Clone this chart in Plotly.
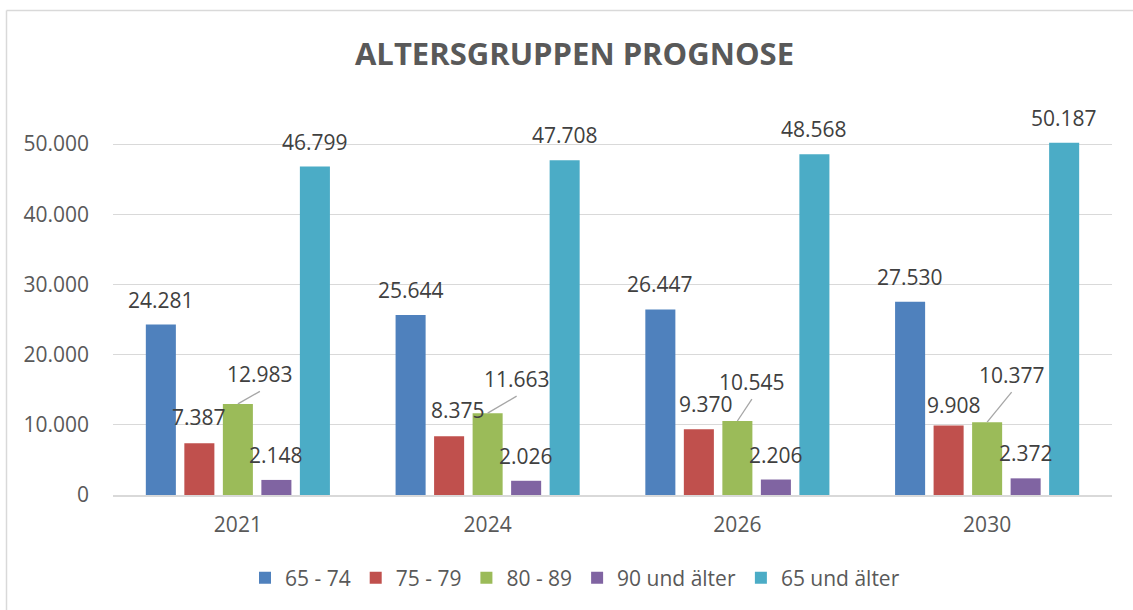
import plotly.graph_objects as go

# ---- data ----
years = ["2021", "2024", "2026", "2030"]
series_names = ["65 - 74", "75 - 79", "80 - 89", "90 und älter", "65 und älter"]
v_65_74 = [24281, 25644, 26447, 27530]
v_75_79 = [7387, 8375, 9370, 9908]
v_80_89 = [12983, 11663, 10545, 10377]
v_90 = [2148, 2026, 2206, 2372]
v_65plus = [46799, 47708, 48568, 50187]
series_values = [v_65_74, v_75_79, v_80_89, v_90, v_65plus]
y_ticks = [0, 10000, 20000, 30000, 40000, 50000]

# ---- style ----
colors = ["#4F81BD", "#C0504D", "#9BBB59", "#8064A2", "#4BACC6"]
FONT = "Open Sans"
BARGAP = 0.229
# label offsets (pixels) relative to top of bar (dx right, dy up)
label_dx = [[0, 0, 0, 0], [0, 9, 7, 5], [22, 29, 14.5, 24.5], [0, 0, 0, 0], [0, 0, 0, 0]]
label_dy = [[25, 25, 25, 25], [26, 26, 25, 20.5], [30, 34.5, 39.3, 47.6],
            [25, 25, 25, 25], [25, 25, 25, 25]]
leader = [False, False, True, False, False]

def fmt(v):
    return f"{v:,}".replace(",", ".")

fig = go.Figure()
for name, vals, col in zip(series_names, series_values, colors):
    fig.add_trace(go.Bar(x=years, y=vals, name=name, marker=dict(color=col, line=dict(width=0)),
                         hoverinfo="skip"))

n = len(series_names)
w = (1 - BARGAP) / n
annotations = []
shapes = []
for k in range(n):
    for i, v in enumerate(series_values[k]):
        xc = i + (k - (n - 1) / 2) * w
        dx = label_dx[k][i]
        dy = label_dy[k][i]
        annotations.append(dict(x=xc, y=v, xref="x", yref="y", text=fmt(v), showarrow=False,
                                xanchor="center", yanchor="middle", xshift=dx, yshift=dy,
                                font=dict(family=FONT, size=21, color="#404040")))
        if leader[k]:
            shapes.append(dict(type="line", xref="x", yref="y", xsizemode="pixel", ysizemode="pixel",
                               xanchor=xc, yanchor=v, x0=0, y0=0, x1=dx, y1=dy - 17.5,
                               line=dict(color="#A6A6A6", width=1.3)))

# chart frame (top and left edges)
L, T, B = 113, 109, 115
H = 610 - T - B
W = 1133 - L - 21
def px_x(p):
    return (p - L) / W
def px_y(p):
    return (610 - B - p) / H
shapes.append(dict(type="line", xref="paper", yref="paper", x0=px_x(6.5), x1=px_x(1140),
                   y0=px_y(10.5), y1=px_y(10.5), line=dict(color="#D9D9D9", width=1.5), layer="above"))
shapes.append(dict(type="line", xref="paper", yref="paper", x0=px_x(6.5), x1=px_x(6.5),
                   y0=px_y(10.5), y1=px_y(620), line=dict(color="#D9D9D9", width=1.5), layer="above"))

fig.update_layout(
    width=1133, height=610,
    margin=dict(l=L, r=21, t=T, b=B),
    paper_bgcolor="white", plot_bgcolor="white",
    barmode="group", bargap=BARGAP, bargroupgap=0.22,
    title=dict(text="<b>ALTERSGRUPPEN PROGNOSE</b>", xref="container", yref="container",
               x=574.5 / 1133, y=1 - 54 / 610, xanchor="center", yanchor="middle",
               font=dict(family=FONT, size=31, color="#595959")),
    xaxis=dict(type="category", showgrid=False, showline=True, linecolor="#D9D9D9", linewidth=1.5,
               ticks="", tickfont=dict(family=FONT, size=21, color="#595959"),
               ticklabelstandoff=10, zeroline=False),
    yaxis=dict(range=[0, 55000], tickvals=y_ticks, ticktext=[fmt(t) for t in y_ticks],
               showgrid=True, gridcolor="#D9D9D9", gridwidth=1.3, zeroline=False, showline=False,
               ticks="", tickfont=dict(family=FONT, size=21, color="#595959"),
               ticklabelstandoff=23),
    legend=dict(orientation="h", x=(575 - L) / W, xanchor="center", y=(495 - 578) / H, yanchor="middle",
                font=dict(family=FONT, size=21, color="#595959"), bgcolor="rgba(0,0,0,0)"),
    annotations=annotations,
    shapes=shapes,
)

fig.write_html("out.html", config={"displayModeBar": False},
               post_script="document.body.style.margin='0px';document.body.style.overflow='hidden';")
